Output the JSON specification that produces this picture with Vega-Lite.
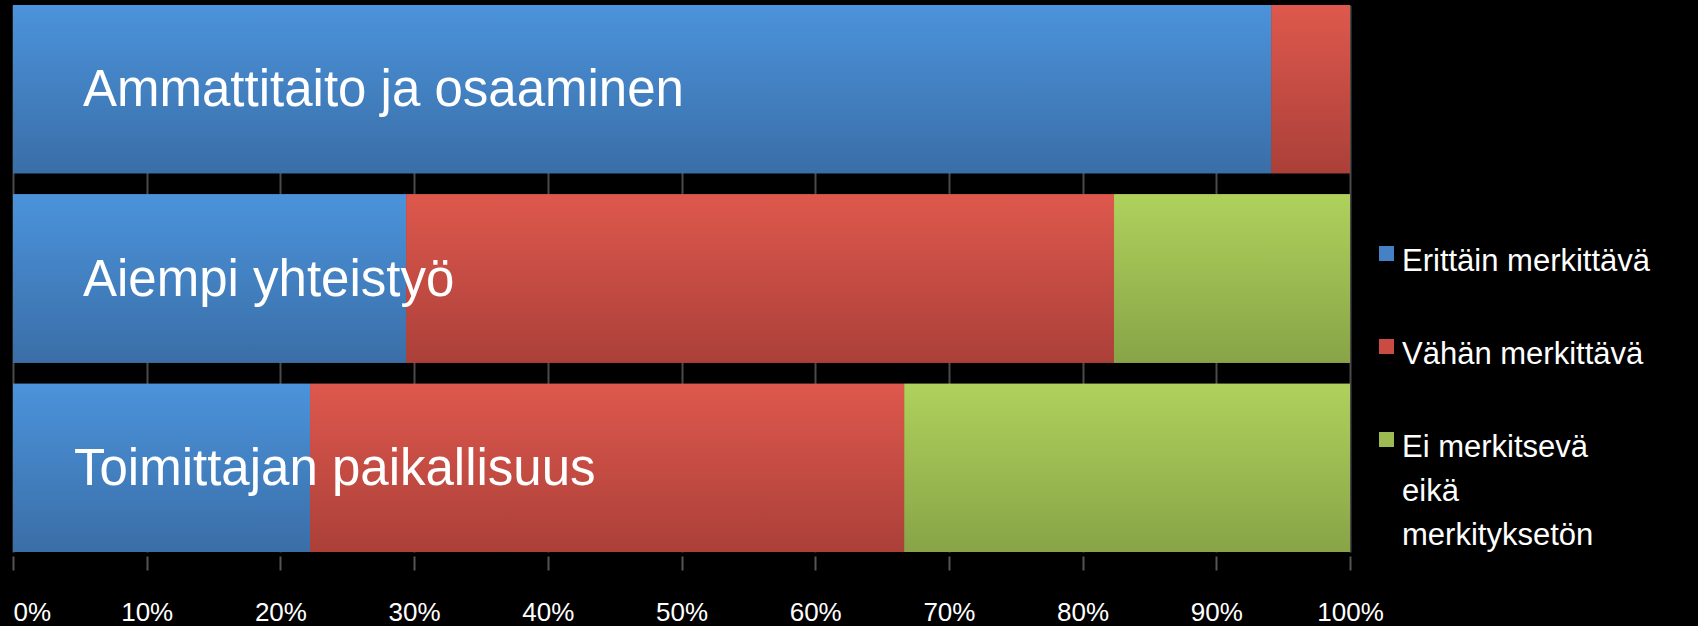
{
  "$schema": "https://vega.github.io/schema/vega-lite/v6.json",
  "width": 1337,
  "height": 547,
  "autosize": {"type": "none"},
  "padding": {"left": 13, "top": 5, "right": 348, "bottom": 74},
  "background": "#000000",
  "config": {"view": {"stroke": null}, "font": "Liberation Sans"},
  "data": {
    "values": [
      {"tekija": "Ammattitaito ja osaaminen", "arvio": "Erittäin merkittävä", "n": 16},
      {"tekija": "Ammattitaito ja osaaminen", "arvio": "Vähän merkittävä", "n": 1},
      {"tekija": "Ammattitaito ja osaaminen", "arvio": "Ei merkitsevä eikä merkityksetön", "n": 0},
      {"tekija": "Aiempi yhteistyö", "arvio": "Erittäin merkittävä", "n": 5},
      {"tekija": "Aiempi yhteistyö", "arvio": "Vähän merkittävä", "n": 9},
      {"tekija": "Aiempi yhteistyö", "arvio": "Ei merkitsevä eikä merkityksetön", "n": 3},
      {"tekija": "Toimittajan paikallisuus", "arvio": "Erittäin merkittävä", "n": 4},
      {"tekija": "Toimittajan paikallisuus", "arvio": "Vähän merkittävä", "n": 8},
      {"tekija": "Toimittajan paikallisuus", "arvio": "Ei merkitsevä eikä merkityksetön", "n": 6}
    ]
  },
  "transform": [
    {"calculate": "indexof(['Erittäin merkittävä', 'Vähän merkittävä', 'Ei merkitsevä eikä merkityksetön'], datum.arvio)", "as": "jarjestys"},
    {"stack": "n", "groupby": ["tekija"], "sort": [{"field": "jarjestys", "order": "ascending"}], "offset": "normalize", "as": ["x0", "x1"]}
  ],
  "encoding": {
    "y": {
      "field": "tekija",
      "type": "nominal",
      "sort": ["Ammattitaito ja osaaminen", "Aiempi yhteistyö", "Toimittajan paikallisuus"],
      "scale": {"paddingInner": 0.111, "paddingOuter": 0},
      "axis": null
    }
  },
  "layer": [
    {
      "mark": {"type": "bar"},
      "encoding": {
        "x": {
          "field": "x0",
          "type": "quantitative",
          "scale": {"domain": [0, 1], "nice": false},
          "axis": {
            "title": null,
            "format": "%",
            "values": [0, 0.1, 0.2, 0.3, 0.4, 0.5, 0.6, 0.7, 0.8, 0.9, 1],
            "grid": true,
            "gridColor": "#4a4a4a",
            "gridWidth": 2,
            "domain": false,
            "ticks": true,
            "tickColor": "#555555",
            "tickWidth": 2,
            "tickSize": 14,
            "offset": 4,
            "labelColor": "#ffffff",
            "labelFont": "Liberation Sans Narrow, Liberation Sans, sans-serif",
            "labelFontSize": 26,
            "labelPadding": 29,
            "labelFlush": false,
            "labelAlign": {"condition": {"test": "datum.value == 0", "value": "left"}, "value": "center"}
          }
        },
        "x2": {"field": "x1"},
        "color": {
          "field": "arvio",
          "type": "nominal",
          "scale": {
            "domain": ["Erittäin merkittävä", "Vähän merkittävä", "Ei merkitsevä eikä merkityksetön"],
            "range": ["#4482c5", "#c84c43", "#9cbb52"]
          },
          "legend": {
            "orient": "none",
            "legendX": 1358,
            "legendY": 233,
            "title": null,
            "padding": 0,
            "symbolType": "square",
            "symbolSize": 225,
            "symbolStrokeWidth": 0,
            "symbolOpacity": 1,
            "labelColor": "#ffffff",
            "labelFont": "Liberation Sans",
            "labelFontSize": 31,
            "labelLimit": 500,
            "labelOffset": 0,
            "rowPadding": 54,
            "labelExpr": "datum.label == 'Ei merkitsevä eikä merkityksetön' ? ['Ei merkitsevä', 'eikä', 'merkityksetön'] : datum.label",
            "encode": {
              "labels": {"update": {"dy": {"value": 8}, "lineHeight": {"value": 44}}},
              "symbols": {"update": {"fill": {"signal": "datum.value == 'Erittäin merkittävä' ? {gradient: 'linear', x1: 0, y1: 0, x2: 0, y2: 1, stops: [{offset: 0, color: '#4b93db'}, {offset: 1, color: '#3a6ea7'}]} : datum.value == 'Vähän merkittävä' ? {gradient: 'linear', x1: 0, y1: 0, x2: 0, y2: 1, stops: [{offset: 0, color: '#de584d'}, {offset: 1, color: '#ab4039'}]} : {gradient: 'linear', x1: 0, y1: 0, x2: 0, y2: 1, stops: [{offset: 0, color: '#afd15c'}, {offset: 1, color: '#88a447'}]}"}}}
            }
          }
        }
      }
    },
    {
      "transform": [{"filter": "datum.arvio == 'Erittäin merkittävä'"}],
      "mark": {"type": "bar", "color": {"gradient": "linear", "x1": 0, "y1": 0, "x2": 0, "y2": 1, "stops": [{"offset": 0, "color": "#4b93db"}, {"offset": 1, "color": "#3a6ea7"}]}},
      "encoding": {"x": {"field": "x0", "type": "quantitative"}, "x2": {"field": "x1"}}
    },
    {
      "transform": [{"filter": "datum.arvio == 'Vähän merkittävä'"}],
      "mark": {"type": "bar", "color": {"gradient": "linear", "x1": 0, "y1": 0, "x2": 0, "y2": 1, "stops": [{"offset": 0, "color": "#de584d"}, {"offset": 1, "color": "#ab4039"}]}},
      "encoding": {"x": {"field": "x0", "type": "quantitative"}, "x2": {"field": "x1"}}
    },
    {
      "transform": [{"filter": "datum.arvio == 'Ei merkitsevä eikä merkityksetön' && datum.n > 0"}],
      "mark": {"type": "bar", "color": {"gradient": "linear", "x1": 0, "y1": 0, "x2": 0, "y2": 1, "stops": [{"offset": 0, "color": "#afd15c"}, {"offset": 1, "color": "#88a447"}]}},
      "encoding": {"x": {"field": "x0", "type": "quantitative"}, "x2": {"field": "x1"}}
    },
    {
      "transform": [{"filter": "datum.arvio == 'Erittäin merkittävä' && datum.tekija != 'Toimittajan paikallisuus'"}],
      "mark": {"type": "text", "align": "left", "baseline": "middle", "dx": 70, "dy": 2, "fontSize": 51, "color": "#ffffff", "font": "Liberation Sans"},
      "encoding": {
        "x": {"datum": 0},
        "text": {"field": "tekija"}
      }
    },
    {
      "transform": [{"filter": "datum.arvio == 'Erittäin merkittävä' && datum.tekija == 'Toimittajan paikallisuus'"}],
      "mark": {"type": "text", "align": "left", "baseline": "middle", "dx": 61, "dy": 2, "fontSize": 51, "color": "#ffffff", "font": "Liberation Sans"},
      "encoding": {
        "x": {"datum": 0},
        "text": {"field": "tekija"}
      }
    }
  ]
}
